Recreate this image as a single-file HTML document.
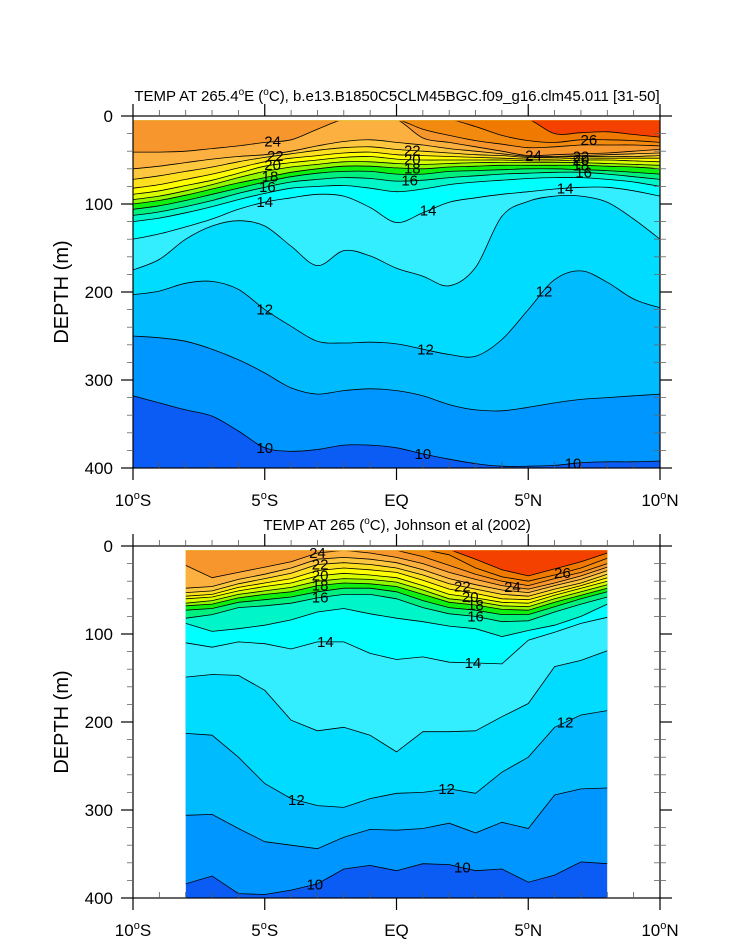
<!DOCTYPE html>
<html><head><meta charset="utf-8">
<style>
html,body{margin:0;padding:0;background:#fff;}
svg{display:block;font-family:"Liberation Sans",sans-serif;}
</style></head>
<body>
<svg id="chart" width="733" height="945" viewBox="0 0 733 945" xmlns="http://www.w3.org/2000/svg">
</svg>
<script>
// ---------- DATA ----------
const levels = [10,11,12,13,14,15,16,17,18,19,20,21,22,23,24,25,26,27];
const bandColors = ["#0a5cf5","#0096ff","#00bcff","#00dcff","#33eeff","#00ffff","#00f5c8","#00f080","#10f010","#90f800","#d8ff00","#ffff00","#ffe020","#fdc840","#fbb040","#f8962e","#f28a10","#f07a00","#f54100"];
// top panel: latitudes -10..10, isotherm depths (m); 0 = isotherm absent (surface warmer)
const topLats = [-10,-9,-8,-7,-6,-5,-4,-3,-2,-1,0,1,2,3,4,5,6,7,8,9,10];
const topDepths = {
 10:[318,326,334,341,358,377,381,379,374,374,377,384,390,395,398,398,397,394,393,393,392],
 11:[250,252,256,265,277,292,309,316,312,310,312,318,328,334,335,331,326,322,320,318,316],
 12:[203,199,190,188,197,220,239,256,258,257,259,265,271,273,254,220,186,176,189,208,218],
 13:[175,163,140,125,119,125,148,170,153,159,173,182,193,172,114,97,91,91,98,117,140],
 14:[140,134,126,117,106,98,93,89,91,104,121,110,98,93,89,86,83,81,81,85,91],
 15:[120,116,110,103,95,88,82,80,79,82,86,83,78,75,73,71,70,70,72,75,80],
 16:[113,109,103,96,88,81,75,72,70,71,74,73,70,68,66,65,64,64,66,69,72],
 17:[106,102,96,89,82,75,69,65,63,63,66,66,63,62,61,60,60,61,62,64,66],
 18:[100,96,90,83,76,70,64,60,57,57,59,60,58,57,56,56,56,56,57,58,60],
 19:[95,91,85,78,70,63,58,55,52,52,54,55,54,53,53,53,53,53,54,55,56],
 20:[89,85,79,73,65,57,53,50,47,46,49,50,50,50,50,51,51,50,50,51,52],
 21:[82,78,72,66,59,52,48,45,42,41,44,45,46,47,48,49,49,48,48,48,48],
 22:[72,68,63,58,52,47,43,39,36,35,38,40,42,44,45,47,47,46,46,46,45],
 23:[60,57,53,49,46,44,40,34,29,27,30,33,37,40,43,46,46,45,44,43,42],
 24:[41,41,40,37,34,30,27,15,0,0,0,25,30,35,40,45,44,43,42,40,38],
 25:[0,0,0,0,0,0,0,0,0,0,0,15,22,28,32,36,35,33,33,33,34],
 26:[0,0,0,0,0,0,0,0,0,0,0,0,0,12,22,28,30,27,27,28,30],
 27:[0,0,0,0,0,0,0,0,0,0,0,0,0,0,0,2,20,19,18,21,24]
};
// bottom panel (Johnson et al): latitudes -8..8
const botLats = [-8,-7,-6,-5,-4,-3,-2,-1,0,1,2,3,4,5,6,7,8];
const botDepths = {
 10:[384,375,395,396,391,384,367,363,369,361,362,369,367,382,374,359,361],
 11:[306,305,321,336,340,344,331,322,323,321,315,326,314,321,283,276,275],
 12:[213,215,240,270,287,295,297,287,281,280,276,281,257,240,206,192,187],
 13:[149,146,147,164,198,210,206,215,234,211,211,210,194,179,137,130,119],
 14:[110,115,109,111,117,109,109,122,129,126,132,133,134,107,98,88,81],
 15:[88,97,94,90,84,75,71,77,82,86,91,94,103,96,90,80,66],
 16:[82,78,70,68,65,59,55,55,60,70,77,80,86,85,75,66,58],
 17:[73,71,64,61,58,52,48,48,52,62,70,73,78,78,69,60,52],
 18:[68,66,59,55,52,45,42,43,46,55,64,67,72,73,64,56,48],
 19:[65,62,55,51,47,40,37,38,41,50,60,63,68,69,60,52,44],
 20:[60,58,51,46,42,34,31,33,36,45,55,59,64,65,56,48,40],
 21:[57,55,47,42,37,28,25,27,30,39,49,54,60,61,53,45,36],
 22:[53,51,43,37,31,21,19,21,25,33,43,49,55,57,49,42,32],
 23:[48,46,38,32,25,15,13,15,19,27,37,44,50,53,45,38,28],
 24:[22,36,30,24,18,8,5,8,13,20,30,38,45,49,42,34,24],
 25:[0,0,0,0,0,0,0,0,5,12,22,32,40,45,37,30,20],
 26:[0,0,0,0,0,0,0,0,0,0,10,25,35,40,33,25,14],
 27:[0,0,0,0,0,0,0,0,0,0,0,15,27,34,26,18,8]
};
const topLabels = [[24,-4.7],[22,-4.6],[20,-4.7],[18,-4.8],[16,-4.9],[14,-5],[22,0.6],[20,0.6],[18,0.6],[16,0.5],[14,1.2],[24,5.2],[26,7.3],[22,7.0],[20,7.0],[18,7.0],[16,7.1],[14,6.4],[12,-5],[12,1.1],[12,5.6],[10,-5],[10,1],[10,6.7]];
const botLabels = [[24,-3],[22,-2.9],[20,-2.9],[18,-2.9],[16,-2.9],[14,-2.7],[14,2.9],[22,2.5],[20,2.8],[18,3],[16,3],[24,4.4],[26,6.3],[12,-3.8],[12,1.9],[12,6.4],[10,-3.1],[10,2.5]];
const xTickVals = [-10,-5,0,5,10];
const xTickText = [["10","S"],["5","S"],["EQ",""],["5","N"],["10","N"]];
const yTickVals = [0,100,200,300,400];

// ---------- DRAWING ----------
const NS="http://www.w3.org/2000/svg";
const svg=document.getElementById('chart');
function mk(tag,attrs,parent){const e=document.createElementNS(NS,tag);for(const k in attrs)e.setAttribute(k,attrs[k]);(parent||svg).appendChild(e);return e;}

function panel(cfg){
  const {x0,x1,y0,y1,lats,depths,smooth,labels,id}=cfg;
  const xs=lat=>x0+(lat+10)/20*(x1-x0);
  const ys=d=>y0+d/400*(y1-y0);
  const g=mk('g',{});
  
  
  const dx0=xs(lats[0]), dx1=xs(lats[lats.length-1]);
  const yTop=ys(5), yBot=ys(400);
  const clip=mk('clipPath',{id:id+'-clip'},g);
  mk('rect',{x:dx0,y:yTop,width:dx1-dx0,height:yBot-yTop},clip);
  const clip2=mk('clipPath',{id:id+'-clip2'},g);
  mk('rect',{x:dx0,y:yTop+0.8,width:dx1-dx0,height:yBot-yTop},clip2);
  const fills=mk('g',{'clip-path':`url(#${id}-clip)`},g);
  const base=mk('rect',{x:dx0,y:yTop,width:dx1-dx0,height:yBot-yTop,fill:bandColors[0]},fills);
  
  
  const lines=mk('g',{'clip-path':`url(#${id}-clip2)`,fill:'none',stroke:'#000','stroke-width':0.8},g);
  function curve(lv){
    const pts=lats.map((la,i)=>[xs(la),ys(Math.max(depths[lv][i],4))]);
    let d=`M${pts[0][0].toFixed(1)},${pts[0][1].toFixed(1)}`;
    for(let i=0;i<pts.length-1;i++){
      const p0=pts[i-1]||pts[i],p1=pts[i],p2=pts[i+1],p3=pts[i+2]||p2;
      if(smooth){
        const c1=[p1[0]+(p2[0]-p0[0])/6,p1[1]+(p2[1]-p0[1])/6];
        const c2=[p2[0]-(p3[0]-p1[0])/6,p2[1]-(p3[1]-p1[1])/6];
        d+=` C${c1[0].toFixed(1)},${c1[1].toFixed(1)} ${c2[0].toFixed(1)},${c2[1].toFixed(1)} ${p2[0].toFixed(1)},${p2[1].toFixed(1)}`;
      } else d+=` L${p2[0].toFixed(1)},${p2[1].toFixed(1)}`;
    }
    return {d,pts};
  }
  levels.forEach((lv,k)=>{
    const c=curve(lv);
    const f=mk('path',{d:`M${dx0},${yTop-2} L${c.d.slice(1)} L${dx1},${yTop-2} Z`,fill:bandColors[k+1]},fills);
    
    
    const l=mk('path',{d:c.d},lines);
    
    
  });
  labels.forEach(([lv,la])=>{
    let i=0;while(i<lats.length-2&&lats[i+1]<la)i++;
    const t=(la-lats[i])/(lats[i+1]-lats[i]);
    const dep=depths[lv][i]*(1-t)+depths[lv][i+1]*t;
    const tx=mk('text',{x:xs(la),y:ys(dep)+5,'font-size':15,'text-anchor':'middle',fill:'#000'},g);
    tx.textContent=String(lv);
    
    
  });
  const fr=mk('rect',{x:x0,y:y0,width:x1-x0,height:y1-y0,fill:'none',stroke:'#000','stroke-width':1.2},g);
  
  
  const ax=mk('g',{stroke:'#000','stroke-width':1.2},g);
  
  
  for(let la=-10;la<=10;la++){
    const x=xs(la);
    if(la%5===0){
      mk('line',{x1:x,y1:y1,x2:x,y2:y1+12},ax);
      mk('line',{x1:x,y1:y0,x2:x,y2:y0-12},ax);
    } else {
      mk('line',{x1:x,y1:y1,x2:x,y2:y1-6,stroke:'#555','stroke-width':0.8},ax);
      mk('line',{x1:x,y1:y0,x2:x,y2:y0-6,stroke:'#555','stroke-width':0.8},ax);
    }
  }
  for(let d=0;d<=400;d+=20){
    const y=ys(d);
    if(d%100===0){
      mk('line',{x1:x0-12,y1:y,x2:x0,y2:y},ax);
      mk('line',{x1:x1,y1:y,x2:x1+12,y2:y},ax);
    } else {
      mk('line',{x1:x0-6,y1:y,x2:x0,y2:y,stroke:'#666','stroke-width':0.8},ax);
      mk('line',{x1:x1-6,y1:y,x2:x1+6,y2:y,stroke:'#666','stroke-width':0.8},ax);
    }
  }
  yTickVals.forEach(v=>{
    const t=mk('text',{x:x0-20,y:ys(v)+6,'font-size':17,'text-anchor':'end'},g);
    t.textContent=String(v);
    
    
  });
  xTickVals.forEach((v,i)=>{
    const t=mk('text',{x:xs(v),y:y1+38,'font-size':17,'text-anchor':'middle'},g);
    
    
    const [a,b]=xTickText[i];
    if(b){
      const s1=mk('tspan',{},t);s1.textContent=a;
      const s2=mk('tspan',{dy:-7,'font-size':11},t);s2.textContent='o';
      const s3=mk('tspan',{dy:7},t);s3.textContent=b;
    } else t.textContent=a;
  });
  const yl=mk('text',{x:0,y:0,'font-size':20,'text-anchor':'middle',transform:`translate(68,${(y0+y1)/2}) rotate(-90)`},g);
  yl.textContent='DEPTH (m)';
  
  
}

panel({id:'model',x0:133,x1:660,y0:116,y1:468,lats:topLats,depths:topDepths,smooth:true,labels:topLabels});
panel({id:'obs',x0:133,x1:660,y0:546,y1:898,lats:botLats,depths:botDepths,smooth:false,labels:botLabels});

const t1=mk('text',{x:397,y:101,'font-size':15,'text-anchor':'middle'});


t1.innerHTML='TEMP AT 265.4<tspan dy="-6" font-size="10">o</tspan><tspan dy="6">E (</tspan><tspan dy="-6" font-size="10">o</tspan><tspan dy="6">C), b.e13.B1850C5CLM45BGC.f09_g16.clm45.011 [31-50]</tspan>';
const t2=mk('text',{x:397,y:530,'font-size':15,'text-anchor':'middle'});


t2.innerHTML='TEMP AT 265 (<tspan dy="-6" font-size="10">o</tspan><tspan dy="6">C), Johnson et al (2002)</tspan>';
</script>
</body></html>
